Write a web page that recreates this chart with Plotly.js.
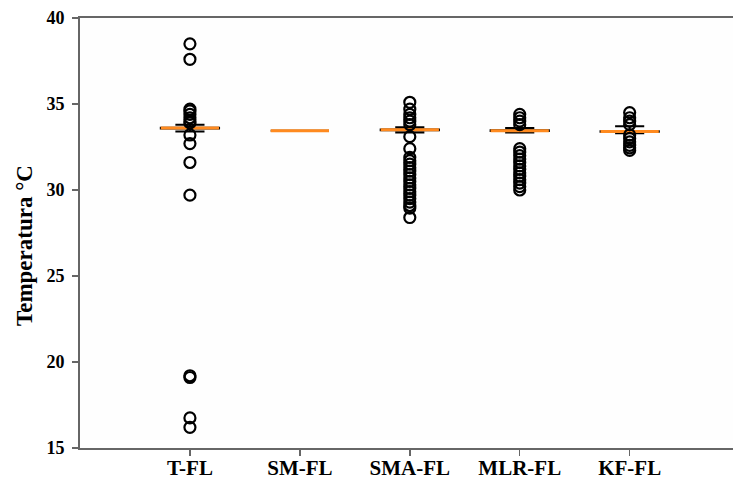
<!DOCTYPE html>
<html>
<head>
<meta charset="utf-8">
<script src="https://cdn.plot.ly/plotly-3.0.1.min.js"></script>
<style>html,body{margin:0;padding:0;background:#fff;overflow:hidden;}#chart{width:733px;height:483px;}</style>
</head>
<body>
<div id="chart"></div>
<script>
const categories = ['T-FL', 'SM-FL', 'SMA-FL', 'MLR-FL', 'KF-FL'];
const lowerWhisker = [33.4, 33.45, 33.35, 33.35, 33.3];
const q1Values = [33.58, 33.45, 33.48, 33.43, 33.38];
const medianValues = [33.6, 33.45, 33.5, 33.45, 33.4];
const q3Values = [33.62, 33.45, 33.52, 33.47, 33.42];
const upperWhisker = [33.8, 33.45, 33.65, 33.6, 33.7];

const outliersTFL = [38.5, 37.6, 34.7, 34.6, 34.4, 34.2, 34.0, 33.9, 33.2, 32.7, 31.6, 29.7, 19.2, 19.1, 16.75, 16.2];
const outliersSMFL = [];
const outliersSMAFL = [35.1, 34.7, 34.4, 34.2, 34.0, 33.8, 33.1, 32.4, 31.9, 31.7, 31.5, 31.3, 31.1, 30.9, 30.7, 30.5, 30.3, 30.1, 29.9, 29.7, 29.5, 29.3, 29.1, 28.95, 28.4];
const outliersMLRFL = [34.4, 34.2, 34.0, 33.8, 32.4, 32.2, 32.0, 31.8, 31.6, 31.4, 31.2, 31.0, 30.8, 30.6, 30.4, 30.2, 30.0];
const outliersKFFL = [34.5, 34.2, 34.0, 33.8, 33.2, 33.0, 32.8, 32.6, 32.45, 32.3];
const yTickValues = [15, 20, 25, 30, 35, 40];

const outlierGroups = [outliersTFL, outliersSMFL, outliersSMAFL, outliersMLRFL, outliersKFFL];
const outX = [], outY = [];
outlierGroups.forEach((g, i) => g.forEach(v => { outX.push(categories[i]); outY.push(v); }));

const serif = 'Liberation Serif, Times New Roman, serif';

const traces = [
  {
    type: 'box', x: categories,
    q1: q1Values, median: medianValues, q3: q3Values,
    lowerfence: lowerWhisker, upperfence: upperWhisker,
    width: 0.53, whiskerwidth: 0.5, boxpoints: false,
    line: {color: '#000', width: 2}, fillcolor: 'rgba(0,0,0,0)',
    hoverinfo: 'skip', showlegend: false
  },
  {
    type: 'scatter', mode: 'markers', x: outX, y: outY,
    marker: {symbol: 'circle-open', size: 11, color: '#000', line: {width: 2.2, color: '#000'}},
    hoverinfo: 'skip', showlegend: false, cliponaxis: false
  },
  {
    type: 'box', x: categories,
    q1: medianValues, median: medianValues, q3: medianValues,
    lowerfence: medianValues, upperfence: medianValues,
    width: 0.53, whiskerwidth: 0, boxpoints: false,
    line: {color: '#ff8a1f', width: 3}, fillcolor: 'rgba(0,0,0,0)',
    hoverinfo: 'skip', showlegend: false
  }
];

const layout = {
  width: 733, height: 483,
  margin: {l: 80, r: 0, t: 18, b: 35, pad: 0},
  paper_bgcolor: '#ffffff', plot_bgcolor: '#fefefe',
  boxmode: 'overlay',
  showlegend: false,
  xaxis: {
    type: 'category', categoryorder: 'array', categoryarray: categories,
    range: [-1, 4.94], automargin: false,
    showgrid: false, zeroline: false,
    showline: true, linecolor: '#666', linewidth: 2, mirror: true,
    ticks: 'outside', ticklen: 6, tickwidth: 1.5, tickcolor: '#666',
    ticklabelstandoff: -6,
    tickfont: {family: serif, size: 21, color: '#000', weight: 'bold'}
  },
  yaxis: {
    range: [15, 40], tickvals: yTickValues, automargin: false,
    showgrid: false, zeroline: false,
    showline: true, linecolor: '#666', linewidth: 2, mirror: false,
    ticks: 'outside', ticklen: 6, tickwidth: 1.5, tickcolor: '#666',
    ticklabelstandoff: 4,
    tickfont: {family: serif, size: 18, color: '#000', weight: 'bold'}
  },
  annotations: [
    {xref: 'paper', yref: 'paper', x: -0.084, y: 0.47, xanchor: 'center', yanchor: 'middle',
     textangle: -90, showarrow: false, text: 'Temperatura °C',
     font: {family: serif, size: 23, color: '#000', weight: 'bold'}}
  ]
};

Plotly.newPlot('chart', traces, layout, {staticPlot: true, displayModeBar: false});
</script>
</body>
</html>
